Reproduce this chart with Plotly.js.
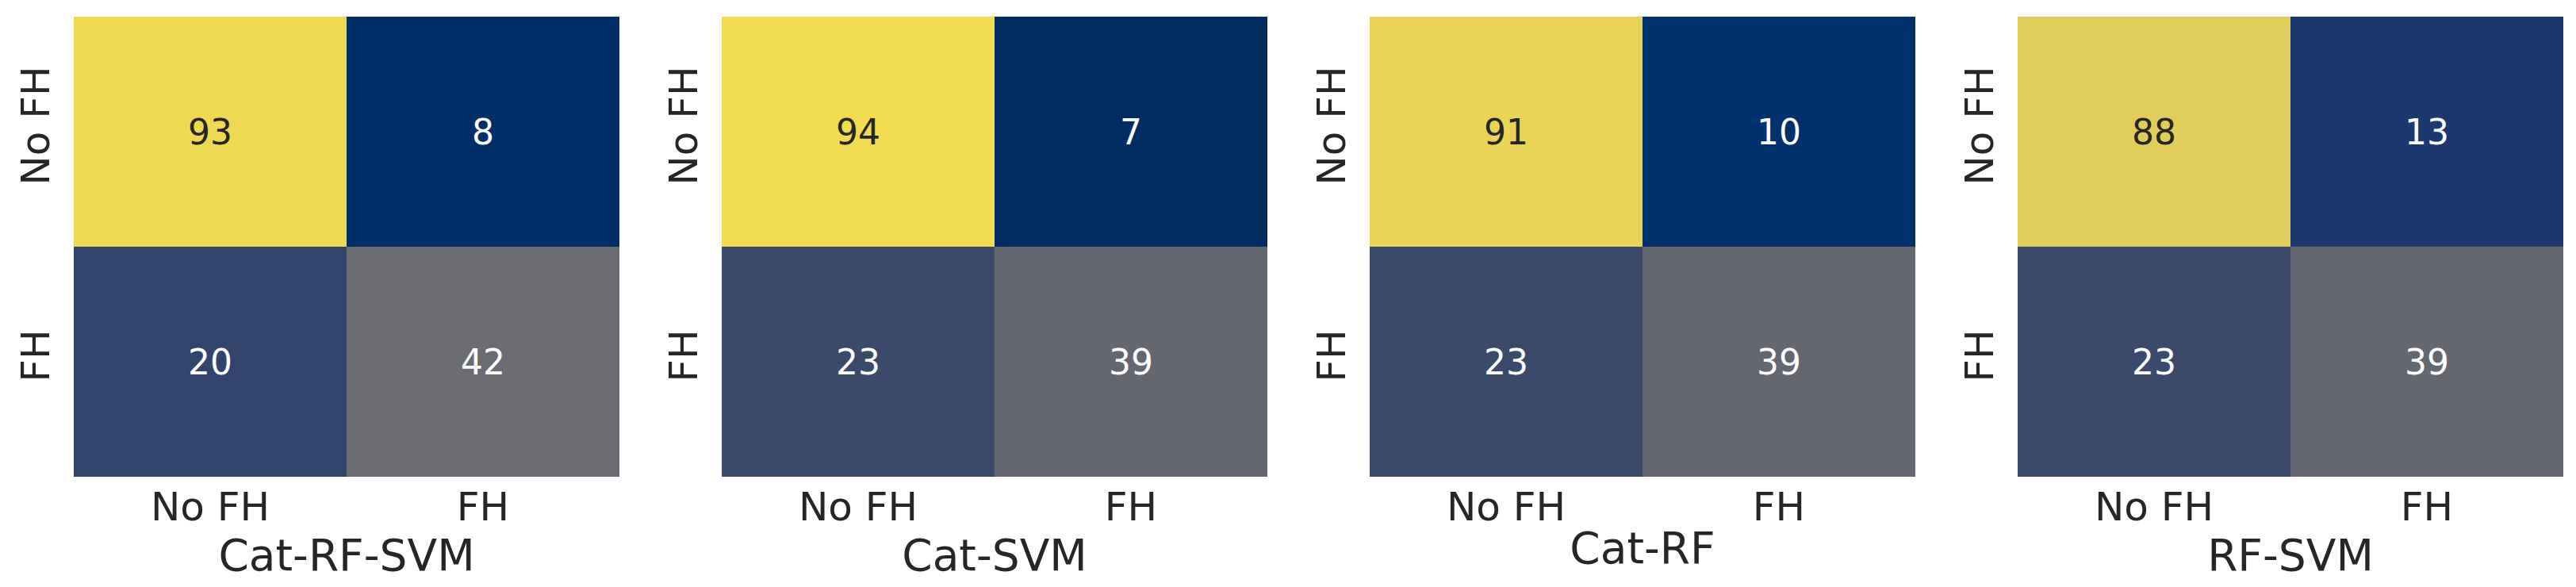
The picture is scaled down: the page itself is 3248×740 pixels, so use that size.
<!DOCTYPE html>
<html>
<head>
<meta charset="utf-8">
<script src="https://cdn.plot.ly/plotly-3.0.1.min.js"></script>
<style>html,body{margin:0;padding:0;background:#fff;}#chart{width:3248px;height:740px;}</style>
</head>
<body>
<div id="chart"></div>
<script>
// ---- data ----
const categories = ['No FH', 'FH'];
const models = ['Cat-RF-SVM', 'Cat-SVM', 'Cat-RF', 'RF-SVM'];
const catRfSvm = [[93, 8], [20, 42]];
const catSvm = [[94, 7], [23, 39]];
const catRf = [[91, 10], [23, 39]];
const rfSvm = [[88, 13], [23, 39]];
const matrices = [catRfSvm, catSvm, catRf, rfSvm];

// ---- style ----
const W = 3248, H = 740;
const panelLeft = [93, 910, 1727, 2544];
const panelW = 688;
const plotTop = 21, plotBottom = 601;
const zmin = 0, zmax = 100;
// cividis colour map stops [position, colour]
const cividisStops = [
  [0.0, '#00204D'], [0.111, '#00336F'], [0.13, '#1C386E'], [0.222, '#39486B'],
  [0.333, '#575C6D'], [0.444, '#707173'], [0.556, '#8A8779'], [0.667, '#A69D75'],
  [0.778, '#C4B56C'], [0.889, '#E4CF5B'], [1.0, '#FFEA46']
];
const colorscale = cividisStops.map(s => [s[0], s[1]]);
const textDark = '#262626';
const font = 'DejaVu Sans, sans-serif';

function hexToRgb(h) {
  return [parseInt(h.substr(1, 2), 16), parseInt(h.substr(3, 2), 16), parseInt(h.substr(5, 2), 16)];
}
function colorAt(v) {
  let t = (v - zmin) / (zmax - zmin);
  t = Math.max(0, Math.min(1, t));
  for (let i = 0; i < cividisStops.length - 1; i++) {
    const s0 = cividisStops[i], s1 = cividisStops[i + 1];
    if (t >= s0[0] && t <= s1[0]) {
      const f = (t - s0[0]) / (s1[0] - s0[0]);
      const a = hexToRgb(s0[1]), b = hexToRgb(s1[1]);
      return a.map((x, k) => x + (b[k] - x) * f);
    }
  }
  return hexToRgb(cividisStops[cividisStops.length - 1][1]);
}
function luminance(rgb) {
  const c = rgb.map(x => {
    x = x / 255;
    return x <= 0.03928 ? x / 12.92 : Math.pow((x + 0.055) / 1.055, 2.4);
  });
  return 0.2126 * c[0] + 0.7152 * c[1] + 0.0722 * c[2];
}

const traces = [];
const annotations = [];
const layout = {
  width: W, height: H,
  margin: {l: 0, r: 0, t: 0, b: 0},
  paper_bgcolor: '#ffffff',
  plot_bgcolor: '#ffffff',
  showlegend: false,
  font: {family: font, color: textDark},
  annotations: annotations
};

matrices.forEach((z, p) => {
  const xa = p === 0 ? 'x' : 'x' + (p + 1);
  const ya = p === 0 ? 'y' : 'y' + (p + 1);
  traces.push({
    type: 'heatmap',
    z: z,
    x: categories,
    y: categories,
    xaxis: xa, yaxis: ya,
    colorscale: colorscale,
    zmin: zmin, zmax: zmax,
    showscale: false,
    hoverinfo: 'skip'
  });
  const xKey = p === 0 ? 'xaxis' : 'xaxis' + (p + 1);
  const yKey = p === 0 ? 'yaxis' : 'yaxis' + (p + 1);
  layout[xKey] = {
    domain: [panelLeft[p] / W, (panelLeft[p] + panelW) / W],
    anchor: ya,
    type: 'category',
    range: [-0.5, 1.5],
    showgrid: false, zeroline: false, showline: false, ticks: '',
    tickfont: {family: font, size: 50, color: textDark},
    ticklabelstandoff: 4,
    title: {text: models[p], font: {family: font, size: 55, color: textDark}, standoff: 4},
    fixedrange: true
  };
  layout[yKey] = {
    domain: [1 - plotBottom / H, 1 - plotTop / H],
    anchor: xa,
    type: 'category',
    range: [1.5, -0.5],
    showgrid: false, zeroline: false, showline: false, ticks: '',
    tickangle: -90,
    tickfont: {family: font, size: 50, color: textDark},
    ticklabelstandoff: 20,
    fixedrange: true
  };
  z.forEach((row, r) => {
    row.forEach((v, c) => {
      const lum = luminance(colorAt(v));
      annotations.push({
        xref: xa, yref: ya,
        x: categories[c], y: categories[r],
        text: String(v),
        showarrow: false,
        font: {family: font, size: 44, color: lum > 0.408 ? textDark : '#ffffff'}
      });
    });
  });
});

Plotly.newPlot('chart', traces, layout, {displayModeBar: false, staticPlot: true});
</script>
</body>
</html>
